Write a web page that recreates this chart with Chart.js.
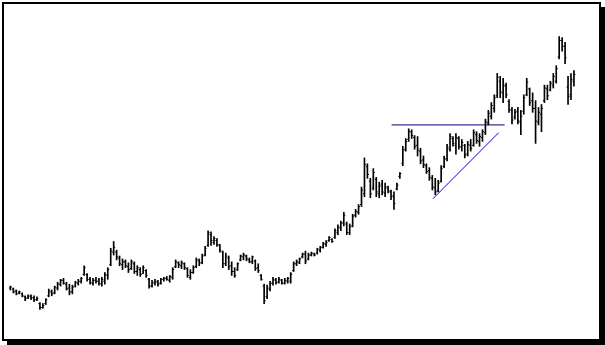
<!DOCTYPE html>
<html>
<head>
<meta charset="utf-8">
<title>Price bars</title>
<script src="https://cdn.jsdelivr.net/npm/chart.js@4/dist/chart.umd.min.js"></script>
<style>
  html, body { margin: 0; padding: 0; background: #fff; }
  #wrap { width: 605px; height: 345px; }
</style>
</head>
<body>
<div id="wrap"><canvas id="chart" width="605" height="345"></canvas></div>
<script>
// ===== DATA (one entry per bar, oldest first) =====
const highs = [
  55,53,51,50,48,45,46,46,45,44,38,37,42,52,51,55,59,62,
  63,59,57,56,60,62,64,76,68,64,63,64,63,64,69,74,94,101,92,86,83,82,79,82,80,76,74,76,72,63,61,
  62,61,63,64,65,66,74,82,80,81,79,74,72,76,84,83,88,96,112,111,106,104,98,91,89,86,80,74,79,87,89,87,84,86,82,78,67,57,56,60,64,63,64,62,63,64,69,80,82,84,
  89,91,89,90,89,94,96,100,102,106,104,114,118,122,131,121,119,129,134,139,157,187,181,166,176,167,162,164,161,158,154,152,161,172,199,207,217,216,210,209,197,189,181,177,169,166,164,179,189,201,
  212,209,212,209,206,201,204,206,216,214,212,216,227,236,244,252,274,271,269,264,247,239,237,239,236,252,269,259,254,246,239,242,262,262,266,274,282,312,311,306,271,274,277
];
const lows = [
  51,48,46,47,44,40,42,41,39,40,31,32,36,44,45,47,51,55,
  57,51,46,47,54,56,58,66,60,57,56,58,56,55,57,62,76,87,82,76,72,74,69,72,68,66,65,68,64,53,54,
  56,55,57,60,61,59,62,74,74,73,72,64,62,68,74,76,78,86,96,97,98,96,90,74,76,72,66,64,71,81,82,81,79,78,71,69,61,37,42,50,56,57,58,57,57,58,58,70,76,78,
  84,78,82,86,86,88,90,94,96,101,100,104,108,112,117,108,108,116,126,129,137,147,166,146,154,147,146,149,147,151,144,134,154,166,179,194,204,207,196,189,181,177,171,164,154,149,152,162,177,184,
  194,199,191,196,194,187,189,194,199,202,199,204,211,221,227,234,249,249,244,249,234,222,227,222,211,232,251,241,234,202,221,214,244,247,256,259,264,289,297,284,242,247,261
];
const opens = [
  53,52,50,48,47,44,43,44,43,41,37,33,37,45,49,48,53,57,
  61,57,53,49,55,58,60,67,67,62,58,61,60,57,60,66,77,90,90,84,77,80,75,73,78,70,72,68,71,62,55,
  58,59,58,62,63,61,64,75,79,76,78,73,64,69,75,81,79,87,97,108,100,102,97,90,78,84,76,70,72,82,85,86,82,80,81,74,66,55,44,52,58,61,59,61,58,60,60,71,78,79,
  85,88,83,87,88,89,92,95,98,102,103,105,110,115,120,119,110,117,128,131,139,150,178,163,156,165,150,160,151,156,152,148,155,168,181,196,206,214,208,200,194,185,179,174,166,156,153,163,178,186,
  196,207,200,207,198,200,191,200,200,211,204,208,213,223,230,238,251,266,254,261,245,236,229,235,224,235,252,258,246,238,224,232,246,258,257,262,266,291,308,302,260,252,266
];
const closes = [
  54,49,47,49,45,42,45,43,41,42,33,35,41,50,47,54,57,61,
  58,52,49,54,59,60,63,74,62,59,61,60,58,62,67,72,91,95,85,78,80,76,72,80,70,74,67,74,66,55,59,
  60,57,62,63,62,65,72,80,77,79,74,66,69,74,82,79,86,94,110,102,104,98,92,78,86,75,70,66,78,86,87,83,80,85,73,71,62,40,53,58,62,59,62,58,61,63,67,78,80,83,
  88,81,87,89,87,93,95,99,100,105,101,112,116,120,128,110,116,127,132,137,154,180,170,150,172,152,158,152,157,153,147,140,159,171,195,204,214,210,199,195,184,180,173,167,157,152,161,176,186,198,
  209,202,208,199,203,190,201,197,213,205,209,214,224,233,241,249,270,255,262,252,237,226,234,225,230,249,265,244,238,225,234,238,259,251,264,271,279,308,302,290,250,268,273
];

// drawn trend lines: [bar index, price]
const resistanceLine = [[129.2, 221], [167.5, 221]];
const supportLine    = [[143.2, 145], [165.5, 213]];

// ===== CHART =====
const frame = {
  id: 'frame',
  afterDraw(chart) {
    const ctx = chart.ctx;
    ctx.save();
    ctx.fillStyle = '#000';
    ctx.fillRect(2, 2, 599, 2);     // top
    ctx.fillRect(2, 2, 2, 339);     // left
    ctx.fillRect(599, 2, 2, 339);   // right
    ctx.fillRect(2, 339, 599, 2);   // bottom
    ctx.fillRect(601, 7, 4, 338);   // shadow right
    ctx.fillRect(7, 341, 598, 4);   // shadow bottom
    ctx.restore();
  }
};

const idx = highs.map((_, i) => i);
const toPts = arr => arr.map(([x, y]) => ({ x, y }));

new Chart(document.getElementById('chart'), {
  data: {
    datasets: [
      {
        type: 'bar',
        data: idx.map(i => ({ x: i, y: [lows[i], highs[i]] })),
        backgroundColor: '#000',
        borderWidth: 0,
        barThickness: 1,
        grouped: false
      },
      {
        type: 'line',
        data: idx.map(i => ({ x: i, y: opens[i] })),
        showLine: false,
        pointStyle: 'dash',
        pointRotation: 180,
        pointRadius: 1.5,
        pointBorderWidth: 1,
        pointBorderColor: '#000',
        pointBackgroundColor: '#000'
      },
      {
        type: 'line',
        data: idx.map(i => ({ x: i, y: closes[i] })),
        showLine: false,
        pointStyle: 'dash',
        pointRotation: 0,
        pointRadius: 1.5,
        pointBorderWidth: 1,
        pointBorderColor: '#000',
        pointBackgroundColor: '#000'
      },
      {
        type: 'line',
        data: toPts(resistanceLine),
        borderColor: '#000080',
        borderWidth: 1,
        pointRadius: 0,
        fill: false
      },
      {
        type: 'line',
        data: toPts(supportLine),
        borderColor: '#0000ff',
        borderWidth: 1,
        pointRadius: 0,
        fill: false
      }
    ]
  },
  options: {
    responsive: false,
    animation: false,
    events: [],
    layout: { padding: 0 },
    plugins: { legend: { display: false }, tooltip: { enabled: false } },
    scales: {
      x: { type: 'linear', min: -1.8333, max: 199.8333, display: false, offset: false },
      y: { type: 'linear', min: -0.5, max: 344.5, display: false }
    }
  },
  plugins: [frame]
});
</script>
</body>
</html>
